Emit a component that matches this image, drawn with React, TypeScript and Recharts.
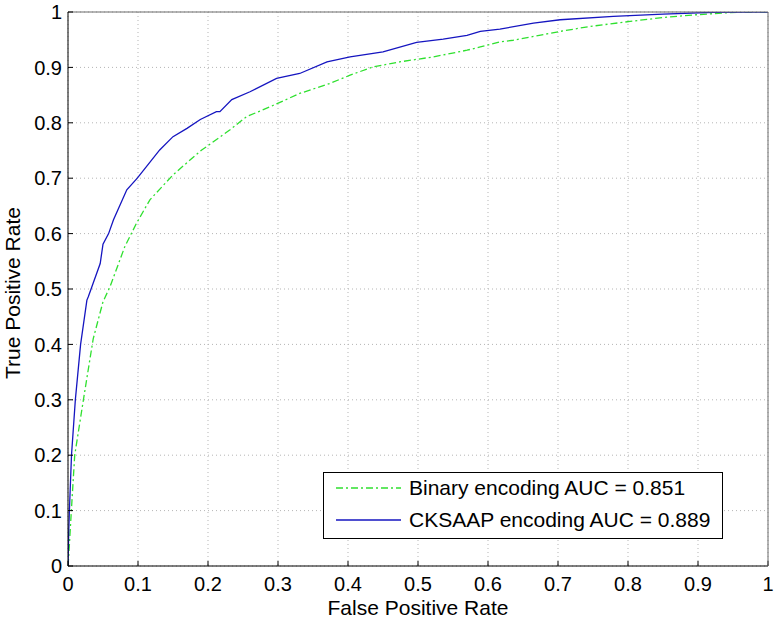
import React from "react";
import {
  CartesianGrid,
  Label,
  Legend,
  Line,
  LineChart,
  XAxis,
  YAxis,
} from "recharts";

const axisTicks = [0, 0.1, 0.2, 0.3, 0.4, 0.5, 0.6, 0.7, 0.8, 0.9, 1];

const binaryFpr = [
  0, 0.001, 0.0048, 0.0096, 0.022, 0.036, 0.05, 0.06, 0.081, 0.098, 0.117,
  0.15, 0.191, 0.198, 0.231, 0.255, 0.289, 0.331, 0.374, 0.403, 0.436, 0.474,
  0.522, 0.57, 0.589, 0.617, 0.636, 0.703, 0.746, 0.803, 0.85, 0.898, 0.946, 1,
];
const binaryTpr = [
  0, 0.017, 0.1, 0.2, 0.3, 0.41, 0.477, 0.504, 0.576, 0.619, 0.661, 0.706,
  0.751, 0.757, 0.787, 0.811, 0.829, 0.853, 0.871, 0.886, 0.901, 0.91, 0.919,
  0.931, 0.937, 0.946, 0.949, 0.965, 0.974, 0.983, 0.99, 0.995, 0.999, 1,
];

const cksaapFpr = [
  0, 0.001, 0.002, 0.005, 0.0105, 0.018, 0.027, 0.029, 0.046, 0.05, 0.058,
  0.065, 0.084, 0.099, 0.131, 0.15, 0.17, 0.189, 0.212, 0.217, 0.234, 0.26,
  0.298, 0.331, 0.37, 0.403, 0.45, 0.498, 0.536, 0.57, 0.589, 0.617, 0.665,
  0.703, 0.779, 0.85, 0.922, 0.984, 1,
];
const cksaapTpr = [
  0, 0.06, 0.1, 0.2, 0.3, 0.4, 0.48, 0.486, 0.546, 0.581, 0.6, 0.625, 0.679,
  0.7, 0.751, 0.775, 0.79, 0.806, 0.82, 0.82, 0.842, 0.856, 0.88, 0.889, 0.91,
  0.919, 0.928, 0.945, 0.951, 0.958, 0.965, 0.969, 0.98, 0.986, 0.992, 0.996,
  0.9995, 1, 1,
];

const binaryLabel = "Binary encoding AUC = 0.851";
const cksaapLabel = "CKSAAP encoding AUC = 0.889";

const binaryData = binaryFpr.map((x, i) => ({ x, y: binaryTpr[i] }));
const cksaapData = cksaapFpr.map((x, i) => ({ x, y: cksaapTpr[i] }));

const FONT = "'Liberation Sans', Arial, sans-serif";
const GREEN = "#2fe02f";
const BLUE = "#1515c0";
const GREEN_DASH = "7 3 2 3";

const fmt = (v: number) => (v === 0 || v === 1 ? String(v) : v.toFixed(1));

const LegendBox = () => (
  <div
    style={{
      width: 398,
      height: 65,
      border: "1px solid #000",
      background: "#fff",
      fontFamily: FONT,
      fontSize: 21,
      color: "#000",
    }}
  >
    {[
      { label: binaryLabel, color: GREEN, dash: GREEN_DASH },
      { label: cksaapLabel, color: BLUE, dash: undefined },
    ].map((item, i) => (
      <div
        key={item.label}
        style={{
          display: "flex",
          alignItems: "center",
          height: 32,
          marginTop: i === 0 ? -1 : 0,
        }}
      >
        <svg width={85} height={10} style={{ flexShrink: 0 }}>
          <line
            x1={12}
            x2={77}
            y1={5}
            y2={5}
            stroke={item.color}
            strokeWidth={1.3}
            strokeDasharray={item.dash}
          />
        </svg>
        <span style={{ whiteSpace: "nowrap" }}>{item.label}</span>
      </div>
    ))}
  </div>
);

const YTitle = (props: any) => {
  const vb = props.viewBox || {};
  const cx = vb.x + 12;
  const cy = vb.y + vb.height / 2 + 4;
  return (
    <text
      x={cx}
      y={cy}
      transform={`rotate(-90, ${cx}, ${cy})`}
      textAnchor="middle"
      fontFamily={FONT}
      fontSize={21}
      fill="#000"
    >
      True Positive Rate
    </text>
  );
};

export default function App() {
  return (
    <div
      style={{
        position: "absolute",
        left: 0,
        top: 0,
        width: 777,
        height: 622,
        background: "#fff",
      }}
    >
      <LineChart
        width={777}
        height={622}
        margin={{ top: 0, right: 0, bottom: 0, left: 8 }}
        style={{ fontFamily: FONT }}
      >
        <CartesianGrid
          xAxisId="b"
          yAxisId="l"
          stroke="#b5b5b5"
          strokeDasharray="1 3"
        />
        <XAxis
          xAxisId="b"
          type="number"
          dataKey="x"
          domain={[0, 1]}
          ticks={axisTicks}
          tickFormatter={fmt}
          height={56}
          tickSize={-5}
          tickMargin={16}
          interval={0}
          allowDataOverflow
          stroke="#000"
          tick={{ fill: "#000", fontSize: 20, fontFamily: FONT }}
        >
          <Label
            value="False Positive Rate"
            position="insideBottom"
            offset={7}
            fill="#000"
            fontSize={21}
            fontFamily={FONT}
          />
        </XAxis>
        <XAxis
          xAxisId="t"
          orientation="top"
          type="number"
          dataKey="x"
          domain={[0, 1]}
          ticks={axisTicks}
          height={12}
          tickSize={-5}
          tick={false}
          interval={0}
          stroke="#6a6a6a"
        />
        <YAxis
          yAxisId="l"
          type="number"
          domain={[0, 1]}
          ticks={axisTicks}
          tickFormatter={fmt}
          width={60}
          tickSize={-5}
          tickMargin={11}
          interval={0}
          allowDataOverflow
          stroke="#000"
          tick={{ fill: "#000", fontSize: 20, fontFamily: FONT }}
        >
          <Label content={<YTitle />} />
        </YAxis>
        <YAxis
          yAxisId="r"
          orientation="right"
          type="number"
          domain={[0, 1]}
          ticks={axisTicks}
          width={9}
          tickSize={-5}
          tick={false}
          interval={0}
          stroke="#6a6a6a"
        />
        <Line
          xAxisId="b"
          yAxisId="l"
          data={binaryData}
          dataKey="y"
          type="linear"
          stroke={GREEN}
          strokeWidth={1.3}
          strokeDasharray={GREEN_DASH}
          dot={false}
          activeDot={false}
          isAnimationActive={false}
        />
        <Line
          xAxisId="b"
          yAxisId="l"
          data={cksaapData}
          dataKey="y"
          type="linear"
          stroke={BLUE}
          strokeWidth={1.3}
          dot={false}
          activeDot={false}
          isAnimationActive={false}
        />
        <Legend
          layout="vertical"
          align="center"
          verticalAlign="middle"
          content={<LegendBox />}
          wrapperStyle={{
            position: "absolute",
            left: 323,
            top: 472,
            width: 400,
            height: 67,
          }}
        />
      </LineChart>
    </div>
  );
}
